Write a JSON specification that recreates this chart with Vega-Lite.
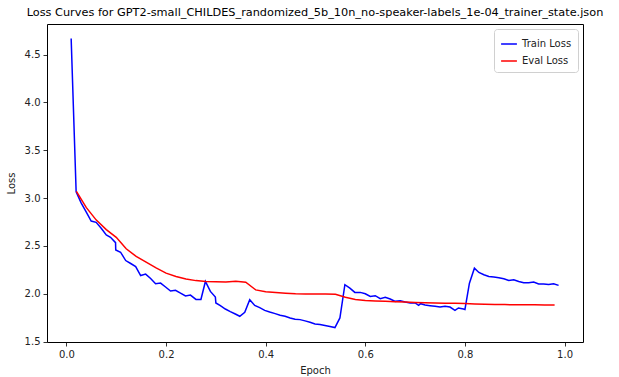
{
  "$schema": "https://vega.github.io/schema/vega-lite/v6.json",
  "autosize": "none",
  "width": 536,
  "height": 318,
  "padding": {"left": 47, "top": 24, "right": 36, "bottom": 35},
  "background": "white",
  "title": {"text": "Loss Curves for GPT2-small_CHILDES_randomized_5b_10n_no-speaker-labels_1e-04_trainer_state.json", "font": "DejaVu Sans", "fontSize": 11.3, "fontWeight": "normal", "color": "black", "anchor": "middle", "offset": 6},
  "datasets": {
    "train": [
      {"epoch": 0.0095, "loss": 4.67}, {"epoch": 0.0195, "loss": 3.066}, {"epoch": 0.0295, "loss": 2.951},
      {"epoch": 0.0396, "loss": 2.857}, {"epoch": 0.0497, "loss": 2.76}, {"epoch": 0.0597, "loss": 2.747},
      {"epoch": 0.0698, "loss": 2.684}, {"epoch": 0.08, "loss": 2.615}, {"epoch": 0.0885, "loss": 2.59},
      {"epoch": 0.0986, "loss": 2.534}, {"epoch": 0.099, "loss": 2.458}, {"epoch": 0.1087, "loss": 2.434},
      {"epoch": 0.119, "loss": 2.347}, {"epoch": 0.129, "loss": 2.316}, {"epoch": 0.139, "loss": 2.284},
      {"epoch": 0.149, "loss": 2.19}, {"epoch": 0.159, "loss": 2.205}, {"epoch": 0.169, "loss": 2.16},
      {"epoch": 0.179, "loss": 2.104}, {"epoch": 0.189, "loss": 2.111}, {"epoch": 0.199, "loss": 2.07},
      {"epoch": 0.209, "loss": 2.028}, {"epoch": 0.219, "loss": 2.035}, {"epoch": 0.229, "loss": 2.007},
      {"epoch": 0.239, "loss": 1.976}, {"epoch": 0.249, "loss": 1.986}, {"epoch": 0.26, "loss": 1.94},
      {"epoch": 0.27, "loss": 1.94}, {"epoch": 0.279, "loss": 2.128}, {"epoch": 0.289, "loss": 2.024},
      {"epoch": 0.299, "loss": 1.965}, {"epoch": 0.3, "loss": 1.903}, {"epoch": 0.309, "loss": 1.875},
      {"epoch": 0.319, "loss": 1.84}, {"epoch": 0.329, "loss": 1.813}, {"epoch": 0.339, "loss": 1.788},
      {"epoch": 0.348, "loss": 1.764}, {"epoch": 0.358, "loss": 1.805}, {"epoch": 0.368, "loss": 1.937},
      {"epoch": 0.378, "loss": 1.878}, {"epoch": 0.388, "loss": 1.854}, {"epoch": 0.398, "loss": 1.826},
      {"epoch": 0.408, "loss": 1.809}, {"epoch": 0.419, "loss": 1.792}, {"epoch": 0.429, "loss": 1.774},
      {"epoch": 0.439, "loss": 1.764}, {"epoch": 0.449, "loss": 1.747}, {"epoch": 0.459, "loss": 1.733},
      {"epoch": 0.469, "loss": 1.729}, {"epoch": 0.479, "loss": 1.716}, {"epoch": 0.489, "loss": 1.701},
      {"epoch": 0.499, "loss": 1.684}, {"epoch": 0.509, "loss": 1.677}, {"epoch": 0.519, "loss": 1.667},
      {"epoch": 0.529, "loss": 1.656}, {"epoch": 0.539, "loss": 1.646}, {"epoch": 0.549, "loss": 1.747},
      {"epoch": 0.559, "loss": 2.094}, {"epoch": 0.569, "loss": 2.059}, {"epoch": 0.579, "loss": 2.014},
      {"epoch": 0.59, "loss": 2.014}, {"epoch": 0.6, "loss": 2.0}, {"epoch": 0.61, "loss": 1.972},
      {"epoch": 0.62, "loss": 1.979}, {"epoch": 0.63, "loss": 1.948}, {"epoch": 0.64, "loss": 1.962},
      {"epoch": 0.65, "loss": 1.945}, {"epoch": 0.66, "loss": 1.92}, {"epoch": 0.67, "loss": 1.927},
      {"epoch": 0.68, "loss": 1.914}, {"epoch": 0.69, "loss": 1.903}, {"epoch": 0.7, "loss": 1.903},
      {"epoch": 0.707, "loss": 1.878}, {"epoch": 0.711, "loss": 1.896}, {"epoch": 0.72, "loss": 1.882},
      {"epoch": 0.73, "loss": 1.875}, {"epoch": 0.74, "loss": 1.868}, {"epoch": 0.75, "loss": 1.861},
      {"epoch": 0.76, "loss": 1.868}, {"epoch": 0.77, "loss": 1.861}, {"epoch": 0.78, "loss": 1.826},
      {"epoch": 0.787, "loss": 1.851}, {"epoch": 0.797, "loss": 1.84}, {"epoch": 0.8, "loss": 1.835},
      {"epoch": 0.809, "loss": 2.11}, {"epoch": 0.819, "loss": 2.267}, {"epoch": 0.828, "loss": 2.222},
      {"epoch": 0.838, "loss": 2.198}, {"epoch": 0.848, "loss": 2.18}, {"epoch": 0.858, "loss": 2.174},
      {"epoch": 0.868, "loss": 2.167}, {"epoch": 0.878, "loss": 2.156}, {"epoch": 0.888, "loss": 2.139},
      {"epoch": 0.898, "loss": 2.146}, {"epoch": 0.908, "loss": 2.128}, {"epoch": 0.918, "loss": 2.115},
      {"epoch": 0.928, "loss": 2.115}, {"epoch": 0.938, "loss": 2.122}, {"epoch": 0.948, "loss": 2.101},
      {"epoch": 0.958, "loss": 2.101}, {"epoch": 0.968, "loss": 2.097}, {"epoch": 0.978, "loss": 2.104},
      {"epoch": 0.988, "loss": 2.087}
    ],
    "eval": [
      {"epoch": 0.02, "loss": 3.07}, {"epoch": 0.04, "loss": 2.9}, {"epoch": 0.06, "loss": 2.77},
      {"epoch": 0.08, "loss": 2.67}, {"epoch": 0.1, "loss": 2.59}, {"epoch": 0.12, "loss": 2.47},
      {"epoch": 0.14, "loss": 2.39}, {"epoch": 0.16, "loss": 2.33}, {"epoch": 0.18, "loss": 2.27},
      {"epoch": 0.2, "loss": 2.215}, {"epoch": 0.22, "loss": 2.18}, {"epoch": 0.24, "loss": 2.155},
      {"epoch": 0.26, "loss": 2.137}, {"epoch": 0.28, "loss": 2.128}, {"epoch": 0.3, "loss": 2.125},
      {"epoch": 0.32, "loss": 2.122}, {"epoch": 0.34, "loss": 2.13}, {"epoch": 0.36, "loss": 2.12},
      {"epoch": 0.38, "loss": 2.04}, {"epoch": 0.4, "loss": 2.02}, {"epoch": 0.42, "loss": 2.012},
      {"epoch": 0.44, "loss": 2.005}, {"epoch": 0.46, "loss": 2.0}, {"epoch": 0.48, "loss": 1.998},
      {"epoch": 0.5, "loss": 1.998}, {"epoch": 0.52, "loss": 1.997}, {"epoch": 0.54, "loss": 1.995},
      {"epoch": 0.56, "loss": 1.963}, {"epoch": 0.58, "loss": 1.94}, {"epoch": 0.6, "loss": 1.93},
      {"epoch": 0.62, "loss": 1.925}, {"epoch": 0.64, "loss": 1.92}, {"epoch": 0.66, "loss": 1.917},
      {"epoch": 0.68, "loss": 1.913}, {"epoch": 0.7, "loss": 1.908}, {"epoch": 0.72, "loss": 1.905},
      {"epoch": 0.74, "loss": 1.903}, {"epoch": 0.76, "loss": 1.901}, {"epoch": 0.78, "loss": 1.899},
      {"epoch": 0.8, "loss": 1.897}, {"epoch": 0.82, "loss": 1.893}, {"epoch": 0.84, "loss": 1.89},
      {"epoch": 0.86, "loss": 1.888}, {"epoch": 0.88, "loss": 1.886}, {"epoch": 0.9, "loss": 1.885},
      {"epoch": 0.92, "loss": 1.884}, {"epoch": 0.94, "loss": 1.884}, {"epoch": 0.96, "loss": 1.883},
      {"epoch": 0.98, "loss": 1.882}
    ]
  },
  "layer": [
    {
      "data": {"name": "train"},
      "transform": [{"calculate": "'Train Loss'", "as": "series"}],
      "mark": {"type": "line", "strokeWidth": 1.5, "clip": true},
      "encoding": {
        "x": {"field": "epoch", "type": "quantitative"},
        "y": {"field": "loss", "type": "quantitative"},
        "color": {"field": "series", "type": "nominal"}
      }
    },
    {
      "data": {"name": "eval"},
      "transform": [{"calculate": "'Eval Loss'", "as": "series"}],
      "mark": {"type": "line", "strokeWidth": 1.5, "clip": true},
      "encoding": {
        "x": {"field": "epoch", "type": "quantitative"},
        "y": {"field": "loss", "type": "quantitative"},
        "color": {"field": "series", "type": "nominal"}
      }
    }
  ],
  "resolve": {"scale": {"x": "shared", "y": "shared", "color": "shared"}},
  "encoding": {
    "x": {"field": "epoch", "type": "quantitative", "title": "Epoch",
      "scale": {"domain": [-0.039, 1.037], "nice": false, "zero": false},
      "axis": {"values": [0, 0.2, 0.4, 0.6, 0.8, 1.0], "format": ".1f", "titlePadding": 6}},
    "y": {"field": "loss", "type": "quantitative", "title": "Loss",
      "scale": {"domain": [1.495, 4.821], "nice": false, "zero": false},
      "axis": {"values": [1.5, 2.0, 2.5, 3.0, 3.5, 4.0, 4.5], "format": ".1f", "titlePadding": 8}},
    "color": {"field": "series", "type": "nominal",
      "scale": {"domain": ["Train Loss", "Eval Loss"], "range": ["blue", "red"]},
      "legend": {"title": null}}
  },
  "config": {
    "view": {"stroke": "black", "strokeWidth": 1},
    "axis": {"domain": false, "grid": false, "tickColor": "black", "tickSize": 4, "tickWidth": 0.8,
      "labelFont": "DejaVu Sans", "labelFontSize": 10, "labelColor": "#222", "labelPadding": 3,
      "titleFont": "DejaVu Sans", "titleFontSize": 10, "titleFontWeight": "normal", "titleColor": "#222"},
    "legend": {"orient": "top-right", "offset": 5, "fillColor": "white", "strokeColor": "#d0d0d0",
      "padding": 6, "cornerRadius": 3, "symbolType": "stroke", "symbolStrokeWidth": 1.5, "symbolSize": 250,
      "labelFont": "DejaVu Sans", "labelFontSize": 10, "labelColor": "#222", "rowPadding": 3}
  }
}
